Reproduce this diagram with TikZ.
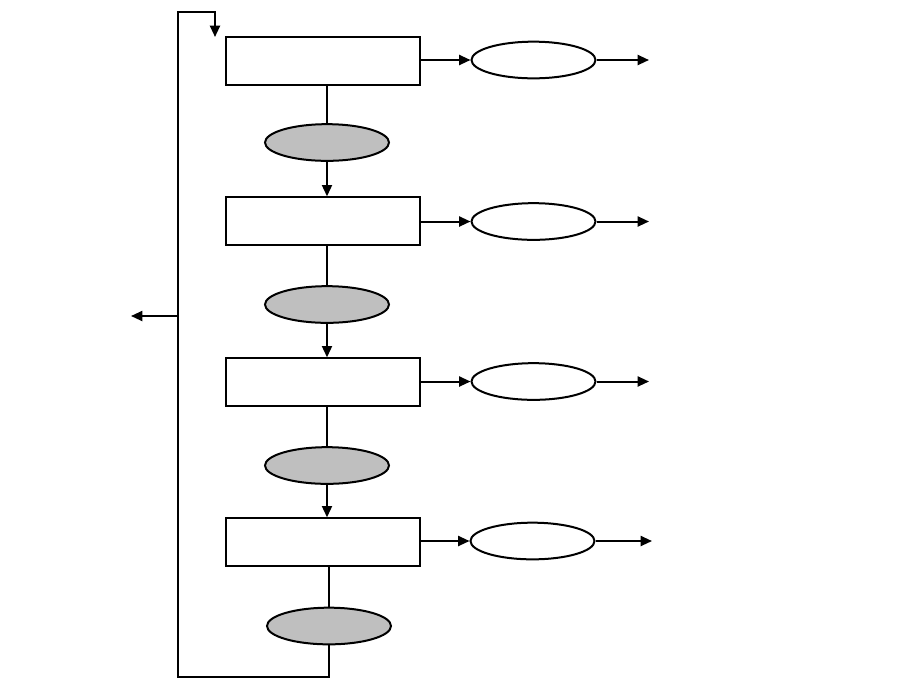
\documentclass[tikz,border=0pt]{standalone}
\usetikzlibrary{shapes.geometric,arrows.meta}
\begin{document}
\begin{tikzpicture}[x=0.75pt,y=-0.75pt,line width=1.5pt,
  stagebox/.style={draw,rectangle,inner sep=0pt,minimum width=145pt,minimum height=35.5pt},
  grayell/.style={draw,ellipse,fill=black!25,inner sep=0pt,minimum width=93pt,minimum height=27.5pt},
  whiteell/.style={draw,ellipse,fill=white,inner sep=0pt,minimum width=93pt,minimum height=27.5pt},
  arr/.style={-{Triangle[length=8.5pt,width=7.5pt]}}]
\useasboundingbox (0,0) rectangle (924,687);
% stage boxes
\node[stagebox] (b1) at (323,61) {};
\node[stagebox] (b2) at (323,221) {};
\node[stagebox] (b3) at (323,382) {};
\node[stagebox] (b4) at (323,542) {};
% gray ellipses
\node[grayell] (g1) at (327,142.5) {};
\node[grayell] (g2) at (327,304.5) {};
\node[grayell] (g3) at (327,465.5) {};
\node[grayell] (g4) at (329,626) {};
% white ellipses
\node[whiteell] (w1) at (533.5,60) {};
\node[whiteell] (w2) at (533.5,221.5) {};
\node[whiteell] (w3) at (533.5,381.5) {};
\node[whiteell] (w4) at (532.5,541) {};
% output ends
\coordinate (o1) at (649,60);
\coordinate (o2) at (649,221.5);
\coordinate (o3) at (649,381.5);
\coordinate (o4) at (652,541);
% box to white ellipse
\draw[arr] (b1.east |- w1) -- (w1.west);
\draw[arr] (b2.east |- w2) -- (w2.west);
\draw[arr] (b3.east |- w3) -- (w3.west);
\draw[arr] (b4.east |- w4) -- (w4.west);
\draw[arr] (w1.east) -- (o1);
\draw[arr] (w2.east) -- (o2);
\draw[arr] (w3.east) -- (o3);
\draw[arr] (w4.east) -- (o4);
% vertical chain
\draw (b1.south -| g1) -- (g1.north);
\draw[arr] (g1.south) -- (b2.north -| g1);
\draw (b2.south -| g2) -- (g2.north);
\draw[arr] (g2.south) -- (b3.north -| g2);
\draw (b3.south -| g3) -- (g3.north);
\draw[arr] (g3.south) -- (b4.north -| g3);
\draw (b4.south -| g4) -- (g4.north);
% feedback loop
\coordinate (l1) at (329,677);
\coordinate (l2) at (178,677);
\coordinate (l3) at (178,12);
\coordinate (l4) at (215,12);
\coordinate (lb) at (215,37);
\draw[arr] (g4.south) -- (l1) -- (l2) -- (l3) -- (l4) -- (lb);
\coordinate (lm) at (178,316);
\coordinate (lo) at (131,316);
\draw[arr] (lm) -- (lo);
\end{tikzpicture}
\end{document}
